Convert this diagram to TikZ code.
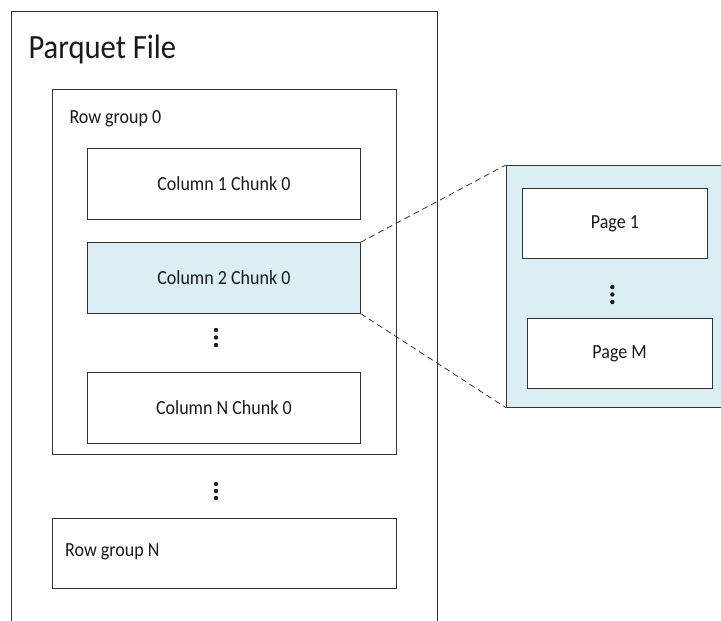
\documentclass[tikz,border=0pt]{standalone}
\usepackage{fontspec}
\setmainfont{Carlito}
\definecolor{chunkblue}{HTML}{DAEEF3}
\definecolor{linegray}{HTML}{333333}
\definecolor{txt}{HTML}{1A1A1A}
\newcommand{\sqz}[1]{\scalebox{0.9}[1]{#1}}
\tikzset{
  boxstyle/.style={draw=linegray, line width=0.8pt, rectangle, inner sep=0pt, anchor=north west},
  lbl/.style={inner sep=0pt, text=txt, font=\fontsize{20}{22}\selectfont},
  dotstyle/.style={fill=txt},
  zoomline/.style={draw=linegray, line width=0.8pt, dash pattern=on 6pt off 4pt}
}
\begin{document}
\begin{tikzpicture}[x=1pt,y=-1pt]
\useasboundingbox (0,0) rectangle (721,621);
\clip (0,0) rectangle (721,621);
% outer file box (open at the bottom)
\node[boxstyle, minimum width=425.5pt, minimum height=640pt] (file) at (11,11) {};
\node[lbl, anchor=base west, font=\fontsize{34}{36}\selectfont] (title) at (28.3,58.3) {\sqz{Parquet File}};
% row group 0
\node[boxstyle, minimum width=344pt, minimum height=365.3pt] (rg0) at (51.7,89) {};
\node[lbl, anchor=base west] (rg0lbl) at (69.3,123.5) {\sqz{Row group 0}};
% column chunks
\node[boxstyle, fill=white, minimum width=272.4pt, minimum height=70.4pt] (c1) at (87.3,148.3) {};
\node[lbl] (c1lbl) at (c1.center) {\sqz{Column 1 Chunk 0}};
\node[boxstyle, fill=chunkblue, minimum width=272.4pt, minimum height=70.4pt] (c2) at (87.3,242.3) {};
\node[lbl] (c2lbl) at (c2.center) {\sqz{Column 2 Chunk 0}};
\fill[dotstyle] (216,330) circle (2.2pt) (216,337.5) circle (2.2pt) (216,345) circle (2.2pt);
\node[boxstyle, fill=white, minimum width=272.4pt, minimum height=71pt] (cN) at (87.3,371.7) {};
\node[lbl] (cNlbl) at (cN.center) {\sqz{Column N Chunk 0}};
% dots between row groups
\fill[dotstyle] (216,484) circle (2.2pt) (216,491) circle (2.2pt) (216,498) circle (2.2pt);
% row group N
\node[boxstyle, minimum width=344pt, minimum height=70pt] (rgN) at (51.7,518.3) {};
\node[lbl, anchor=base west] (rgNlbl) at (65,556.7) {\sqz{Row group N}};
% detail of column chunk (pages)
\node[boxstyle, fill=chunkblue, minimum width=240pt, minimum height=241.7pt] (detail) at (505.7,165) {};
\node[boxstyle, fill=white, minimum width=185.6pt, minimum height=70pt] (p1) at (521.7,188.3) {};
\node[lbl] (p1lbl) at (p1.center) {\sqz{Page 1}};
\fill[dotstyle] (612.3,287) circle (2.2pt) (612.3,294.5) circle (2.2pt) (612.3,302) circle (2.2pt);
\node[boxstyle, fill=white, minimum width=185pt, minimum height=70.6pt] (pM) at (526.7,317.7) {};
\node[lbl] (pMlbl) at (pM.center) {\sqz{Page M}};
% zoom connectors
\draw[zoomline] (c2.north east) -- (detail.north west);
\draw[zoomline] (c2.south east) -- (detail.south west);
\end{tikzpicture}
\end{document}
